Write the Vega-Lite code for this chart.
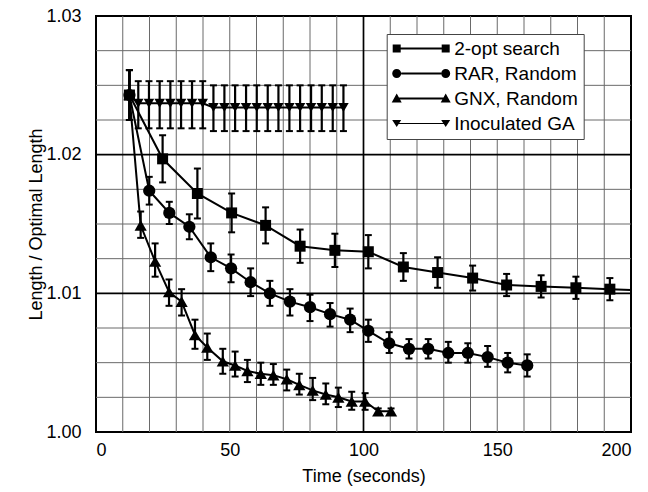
{
  "$schema": "https://vega.github.io/schema/vega-lite/v6.json",
  "width": 535,
  "height": 416,
  "autosize": {"type": "none"},
  "padding": {"left": 96, "top": 16, "right": 17, "bottom": 60},
  "background": "white",
  "config": {
    "font": "Liberation Sans",
    "view": {"stroke": "black", "strokeWidth": 2},
    "axis": {
      "domain": false,
      "ticks": false,
      "tickSize": 0,
      "grid": false,
      "labelColor": "black",
      "labelFontSize": 18,
      "labelFont": "Liberation Sans",
      "labelOverlap": false,
      "titleFont": "Liberation Sans",
      "titleFontSize": 18,
      "titleFontWeight": "normal",
      "titleColor": "black"
    }
  },
  "data": {
    "values": [
      {"s": "2-opt search", "t": 12.5, "v": 1.0243, "lo": 1.0225, "hi": 1.0261},
      {"s": "2-opt search", "t": 24.9, "v": 1.0197, "lo": 1.0180, "hi": 1.0214},
      {"s": "2-opt search", "t": 37.9, "v": 1.0172, "lo": 1.0154, "hi": 1.0190},
      {"s": "2-opt search", "t": 50.7, "v": 1.0158, "lo": 1.0144, "hi": 1.0172},
      {"s": "2-opt search", "t": 63.4, "v": 1.0149, "lo": 1.0136, "hi": 1.0162},
      {"s": "2-opt search", "t": 76.3, "v": 1.0134, "lo": 1.0122, "hi": 1.0146},
      {"s": "2-opt search", "t": 89.3, "v": 1.0131, "lo": 1.0119, "hi": 1.0143},
      {"s": "2-opt search", "t": 101.8, "v": 1.0130, "lo": 1.0118, "hi": 1.0142},
      {"s": "2-opt search", "t": 114.9, "v": 1.0119, "lo": 1.0109, "hi": 1.0129},
      {"s": "2-opt search", "t": 127.7, "v": 1.0115, "lo": 1.0104, "hi": 1.0126},
      {"s": "2-opt search", "t": 140.8, "v": 1.0111, "lo": 1.0102, "hi": 1.0120},
      {"s": "2-opt search", "t": 153.5, "v": 1.0106, "lo": 1.0098, "hi": 1.0114},
      {"s": "2-opt search", "t": 166.4, "v": 1.0105, "lo": 1.0097, "hi": 1.0113},
      {"s": "2-opt search", "t": 179.4, "v": 1.0104, "lo": 1.0096, "hi": 1.0112},
      {"s": "2-opt search", "t": 192.1, "v": 1.0103, "lo": 1.0095, "hi": 1.0111},
      {"s": "2-opt search", "t": 205.0, "v": 1.0102, "lo": 1.0094, "hi": 1.0110},
      {"s": "RAR, Random", "t": 12.5, "v": 1.0243, "lo": 1.0225, "hi": 1.0261},
      {"s": "RAR, Random", "t": 19.9, "v": 1.0174, "lo": 1.0164, "hi": 1.0184},
      {"s": "RAR, Random", "t": 27.4, "v": 1.0158, "lo": 1.0150, "hi": 1.0166},
      {"s": "RAR, Random", "t": 34.9, "v": 1.0148, "lo": 1.0139, "hi": 1.0157},
      {"s": "RAR, Random", "t": 42.9, "v": 1.0126, "lo": 1.0116, "hi": 1.0136},
      {"s": "RAR, Random", "t": 50.5, "v": 1.0118, "lo": 1.0108, "hi": 1.0128},
      {"s": "RAR, Random", "t": 57.8, "v": 1.0108, "lo": 1.0098, "hi": 1.0118},
      {"s": "RAR, Random", "t": 65.0, "v": 1.0100, "lo": 1.0091, "hi": 1.0109},
      {"s": "RAR, Random", "t": 72.5, "v": 1.0094, "lo": 1.0084, "hi": 1.0103},
      {"s": "RAR, Random", "t": 80.0, "v": 1.0090, "lo": 1.0080, "hi": 1.0099},
      {"s": "RAR, Random", "t": 87.5, "v": 1.0085, "lo": 1.0076, "hi": 1.0093},
      {"s": "RAR, Random", "t": 95.0, "v": 1.0081, "lo": 1.0072, "hi": 1.0089},
      {"s": "RAR, Random", "t": 101.8, "v": 1.0073, "lo": 1.0065, "hi": 1.0081},
      {"s": "RAR, Random", "t": 109.6, "v": 1.0064, "lo": 1.0057, "hi": 1.0072},
      {"s": "RAR, Random", "t": 117.0, "v": 1.0060, "lo": 1.0053, "hi": 1.0067},
      {"s": "RAR, Random", "t": 124.2, "v": 1.0060, "lo": 1.0053, "hi": 1.0067},
      {"s": "RAR, Random", "t": 131.7, "v": 1.0057, "lo": 1.0050, "hi": 1.0065},
      {"s": "RAR, Random", "t": 139.0, "v": 1.0057, "lo": 1.0050, "hi": 1.0064},
      {"s": "RAR, Random", "t": 146.4, "v": 1.0054, "lo": 1.0047, "hi": 1.0062},
      {"s": "RAR, Random", "t": 153.9, "v": 1.0050, "lo": 1.0043, "hi": 1.0057},
      {"s": "RAR, Random", "t": 161.2, "v": 1.0048, "lo": 1.0040, "hi": 1.0056},
      {"s": "GNX, Random", "t": 12.5, "v": 1.0243, "lo": 1.0225, "hi": 1.0261},
      {"s": "GNX, Random", "t": 16.7, "v": 1.0149, "lo": 1.0140, "hi": 1.0159},
      {"s": "GNX, Random", "t": 22.1, "v": 1.0123, "lo": 1.0112, "hi": 1.0136},
      {"s": "GNX, Random", "t": 27.3, "v": 1.0101, "lo": 1.0091, "hi": 1.0110},
      {"s": "GNX, Random", "t": 32.0, "v": 1.0094, "lo": 1.0084, "hi": 1.0103},
      {"s": "GNX, Random", "t": 37.0, "v": 1.0070, "lo": 1.0060, "hi": 1.0081},
      {"s": "GNX, Random", "t": 41.6, "v": 1.0061, "lo": 1.0052, "hi": 1.0071},
      {"s": "GNX, Random", "t": 47.4, "v": 1.0051, "lo": 1.0042, "hi": 1.0060},
      {"s": "GNX, Random", "t": 52.0, "v": 1.0048, "lo": 1.0040, "hi": 1.0058},
      {"s": "GNX, Random", "t": 56.6, "v": 1.0044, "lo": 1.0036, "hi": 1.0052},
      {"s": "GNX, Random", "t": 61.6, "v": 1.0042, "lo": 1.0034, "hi": 1.0050},
      {"s": "GNX, Random", "t": 66.3, "v": 1.0041, "lo": 1.0034, "hi": 1.0049},
      {"s": "GNX, Random", "t": 71.3, "v": 1.0038, "lo": 1.0030, "hi": 1.0045},
      {"s": "GNX, Random", "t": 76.0, "v": 1.0034, "lo": 1.0027, "hi": 1.0042},
      {"s": "GNX, Random", "t": 81.0, "v": 1.0030, "lo": 1.0023, "hi": 1.0039},
      {"s": "GNX, Random", "t": 85.9, "v": 1.0027, "lo": 1.0020, "hi": 1.0035},
      {"s": "GNX, Random", "t": 90.6, "v": 1.0025, "lo": 1.0018, "hi": 1.0032},
      {"s": "GNX, Random", "t": 95.6, "v": 1.0022, "lo": 1.0016, "hi": 1.0029},
      {"s": "GNX, Random", "t": 100.6, "v": 1.0022, "lo": 1.0016, "hi": 1.0028},
      {"s": "GNX, Random", "t": 105.5, "v": 1.0015, "lo": 1.0013, "hi": 1.0017},
      {"s": "GNX, Random", "t": 110.3, "v": 1.0015, "lo": 1.0013, "hi": 1.0017},
      {"s": "Inoculated GA", "t": 12.5, "v": 1.0243, "lo": 1.0225, "hi": 1.0261},
      {"s": "Inoculated GA", "t": 15.8, "v": 1.0237, "lo": 1.0219, "hi": 1.0253},
      {"s": "Inoculated GA", "t": 19.8, "v": 1.0237, "lo": 1.0219, "hi": 1.0253},
      {"s": "Inoculated GA", "t": 23.8, "v": 1.0237, "lo": 1.0219, "hi": 1.0253},
      {"s": "Inoculated GA", "t": 27.8, "v": 1.0237, "lo": 1.0219, "hi": 1.0253},
      {"s": "Inoculated GA", "t": 31.8, "v": 1.0237, "lo": 1.0219, "hi": 1.0253},
      {"s": "Inoculated GA", "t": 35.9, "v": 1.0237, "lo": 1.0219, "hi": 1.0253},
      {"s": "Inoculated GA", "t": 39.9, "v": 1.0237, "lo": 1.0219, "hi": 1.0253},
      {"s": "Inoculated GA", "t": 43.9, "v": 1.0234, "lo": 1.0217, "hi": 1.0250},
      {"s": "Inoculated GA", "t": 48.0, "v": 1.0234, "lo": 1.0217, "hi": 1.0250},
      {"s": "Inoculated GA", "t": 52.0, "v": 1.0234, "lo": 1.0217, "hi": 1.0250},
      {"s": "Inoculated GA", "t": 56.1, "v": 1.0234, "lo": 1.0217, "hi": 1.0250},
      {"s": "Inoculated GA", "t": 60.1, "v": 1.0234, "lo": 1.0217, "hi": 1.0250},
      {"s": "Inoculated GA", "t": 64.2, "v": 1.0234, "lo": 1.0217, "hi": 1.0250},
      {"s": "Inoculated GA", "t": 68.2, "v": 1.0234, "lo": 1.0217, "hi": 1.0250},
      {"s": "Inoculated GA", "t": 72.3, "v": 1.0234, "lo": 1.0217, "hi": 1.0250},
      {"s": "Inoculated GA", "t": 76.3, "v": 1.0234, "lo": 1.0217, "hi": 1.0250},
      {"s": "Inoculated GA", "t": 80.4, "v": 1.0234, "lo": 1.0217, "hi": 1.0250},
      {"s": "Inoculated GA", "t": 84.4, "v": 1.0234, "lo": 1.0217, "hi": 1.0250},
      {"s": "Inoculated GA", "t": 88.5, "v": 1.0234, "lo": 1.0217, "hi": 1.0250},
      {"s": "Inoculated GA", "t": 92.5, "v": 1.0234, "lo": 1.0217, "hi": 1.0250}
    ]
  },
  "layer": [
    {"data": {"values": [{}]}, "mark": {"type": "rule", "color": "#6a6a6a", "strokeWidth": 1}, "encoding": {"x": {"datum": 10, "type": "quantitative"}}},
    {"data": {"values": [{}]}, "mark": {"type": "rule", "color": "#6a6a6a", "strokeWidth": 1}, "encoding": {"x": {"datum": 20, "type": "quantitative"}}},
    {"data": {"values": [{}]}, "mark": {"type": "rule", "color": "#6a6a6a", "strokeWidth": 1}, "encoding": {"x": {"datum": 30, "type": "quantitative"}}},
    {"data": {"values": [{}]}, "mark": {"type": "rule", "color": "#6a6a6a", "strokeWidth": 1}, "encoding": {"x": {"datum": 40, "type": "quantitative"}}},
    {"data": {"values": [{}]}, "mark": {"type": "rule", "color": "#6a6a6a", "strokeWidth": 1}, "encoding": {"x": {"datum": 50, "type": "quantitative"}}},
    {"data": {"values": [{}]}, "mark": {"type": "rule", "color": "#6a6a6a", "strokeWidth": 1}, "encoding": {"x": {"datum": 60, "type": "quantitative"}}},
    {"data": {"values": [{}]}, "mark": {"type": "rule", "color": "#6a6a6a", "strokeWidth": 1}, "encoding": {"x": {"datum": 70, "type": "quantitative"}}},
    {"data": {"values": [{}]}, "mark": {"type": "rule", "color": "#6a6a6a", "strokeWidth": 1}, "encoding": {"x": {"datum": 80, "type": "quantitative"}}},
    {"data": {"values": [{}]}, "mark": {"type": "rule", "color": "#6a6a6a", "strokeWidth": 1}, "encoding": {"x": {"datum": 90, "type": "quantitative"}}},
    {"data": {"values": [{}]}, "mark": {"type": "rule", "color": "#6a6a6a", "strokeWidth": 1}, "encoding": {"x": {"datum": 110, "type": "quantitative"}}},
    {"data": {"values": [{}]}, "mark": {"type": "rule", "color": "#6a6a6a", "strokeWidth": 1}, "encoding": {"x": {"datum": 120, "type": "quantitative"}}},
    {"data": {"values": [{}]}, "mark": {"type": "rule", "color": "#6a6a6a", "strokeWidth": 1}, "encoding": {"x": {"datum": 130, "type": "quantitative"}}},
    {"data": {"values": [{}]}, "mark": {"type": "rule", "color": "#6a6a6a", "strokeWidth": 1}, "encoding": {"x": {"datum": 140, "type": "quantitative"}}},
    {"data": {"values": [{}]}, "mark": {"type": "rule", "color": "#6a6a6a", "strokeWidth": 1}, "encoding": {"x": {"datum": 150, "type": "quantitative"}}},
    {"data": {"values": [{}]}, "mark": {"type": "rule", "color": "#6a6a6a", "strokeWidth": 1}, "encoding": {"x": {"datum": 160, "type": "quantitative"}}},
    {"data": {"values": [{}]}, "mark": {"type": "rule", "color": "#6a6a6a", "strokeWidth": 1}, "encoding": {"x": {"datum": 170, "type": "quantitative"}}},
    {"data": {"values": [{}]}, "mark": {"type": "rule", "color": "#6a6a6a", "strokeWidth": 1}, "encoding": {"x": {"datum": 180, "type": "quantitative"}}},
    {"data": {"values": [{}]}, "mark": {"type": "rule", "color": "#6a6a6a", "strokeWidth": 1}, "encoding": {"x": {"datum": 190, "type": "quantitative"}}},
    {"data": {"values": [{}]}, "mark": {"type": "rule", "color": "#6a6a6a", "strokeWidth": 1}, "encoding": {"y": {"datum": 1.0025, "type": "quantitative"}}},
    {"data": {"values": [{}]}, "mark": {"type": "rule", "color": "#6a6a6a", "strokeWidth": 1}, "encoding": {"y": {"datum": 1.005, "type": "quantitative"}}},
    {"data": {"values": [{}]}, "mark": {"type": "rule", "color": "#6a6a6a", "strokeWidth": 1}, "encoding": {"y": {"datum": 1.0075, "type": "quantitative"}}},
    {"data": {"values": [{}]}, "mark": {"type": "rule", "color": "#6a6a6a", "strokeWidth": 1}, "encoding": {"y": {"datum": 1.0125, "type": "quantitative"}}},
    {"data": {"values": [{}]}, "mark": {"type": "rule", "color": "#6a6a6a", "strokeWidth": 1}, "encoding": {"y": {"datum": 1.015, "type": "quantitative"}}},
    {"data": {"values": [{}]}, "mark": {"type": "rule", "color": "#6a6a6a", "strokeWidth": 1}, "encoding": {"y": {"datum": 1.0175, "type": "quantitative"}}},
    {"data": {"values": [{}]}, "mark": {"type": "rule", "color": "#6a6a6a", "strokeWidth": 1}, "encoding": {"y": {"datum": 1.0225, "type": "quantitative"}}},
    {"data": {"values": [{}]}, "mark": {"type": "rule", "color": "#6a6a6a", "strokeWidth": 1}, "encoding": {"y": {"datum": 1.025, "type": "quantitative"}}},
    {"data": {"values": [{}]}, "mark": {"type": "rule", "color": "#6a6a6a", "strokeWidth": 1}, "encoding": {"y": {"datum": 1.0275, "type": "quantitative"}}},
    {"data": {"values": [{}]}, "mark": {"type": "rule", "color": "black", "strokeWidth": 1.7}, "encoding": {"x": {"datum": 100, "type": "quantitative"}}},
    {"data": {"values": [{}]}, "mark": {"type": "rule", "color": "black", "strokeWidth": 1.7}, "encoding": {"y": {"datum": 1.01, "type": "quantitative"}}},
    {"data": {"values": [{}]}, "mark": {"type": "rule", "color": "black", "strokeWidth": 1.7}, "encoding": {"y": {"datum": 1.02, "type": "quantitative"}}},
    {
      "mark": {"type": "line", "color": "black", "strokeWidth": 2, "clip": true},
      "encoding": {
        "x": {
          "field": "t", "type": "quantitative",
          "scale": {"domain": [0, 200], "nice": false, "zero": false},
          "axis": {
            "values": [0, 50, 100, 150, 200],
            "tickCount": 100,
            "labelOverlap": false,
            "labelPadding": 9,
            "grid": false,
            "title": "Time (seconds)",
            "titlePadding": 8
          }
        },
        "y": {
          "field": "v", "type": "quantitative",
          "scale": {"domain": [1.0, 1.03], "nice": false, "zero": false},
          "axis": {
            "values": [1.0, 1.01, 1.02, 1.03],
            "tickCount": 100,
            "format": ".2f",
            "labelOverlap": false,
            "labelPadding": 15,
            "grid": false,
            "title": "Length / Optimal Length",
            "titlePadding": 0
          }
        },
        "detail": {"field": "s", "type": "nominal"}
      }
    },
    {
      "mark": {"type": "rule", "color": "black", "strokeWidth": 2.2, "clip": true},
      "encoding": {
        "x": {"field": "t", "type": "quantitative"},
        "y": {"field": "lo", "type": "quantitative"},
        "y2": {"field": "hi"}
      }
    },
    {
      "mark": {"type": "tick", "orient": "horizontal", "color": "black", "size": 7, "thickness": 2, "opacity": 1, "clip": true},
      "encoding": {
        "x": {"field": "t", "type": "quantitative"},
        "y": {"field": "lo", "type": "quantitative"}
      }
    },
    {
      "mark": {"type": "tick", "orient": "horizontal", "color": "black", "size": 7, "thickness": 2, "opacity": 1, "clip": true},
      "encoding": {
        "x": {"field": "t", "type": "quantitative"},
        "y": {"field": "hi", "type": "quantitative"}
      }
    },
    {
      "transform": [{"filter": "datum.s === '2-opt search'"}],
      "mark": {"type": "point", "shape": "square", "size": 121, "filled": true, "color": "black", "opacity": 1, "clip": true},
      "encoding": {
        "x": {"field": "t", "type": "quantitative"},
        "y": {"field": "v", "type": "quantitative"}
      }
    },
    {
      "transform": [{"filter": "datum.s === 'RAR, Random'"}],
      "mark": {"type": "point", "shape": "circle", "size": 150, "filled": true, "color": "black", "opacity": 1, "clip": true},
      "encoding": {
        "x": {"field": "t", "type": "quantitative"},
        "y": {"field": "v", "type": "quantitative"}
      }
    },
    {
      "transform": [{"filter": "datum.s === 'GNX, Random'"}],
      "mark": {"type": "point", "shape": "triangle-up", "size": 150, "filled": true, "color": "black", "opacity": 1, "clip": true},
      "encoding": {
        "x": {"field": "t", "type": "quantitative"},
        "y": {"field": "v", "type": "quantitative"}
      }
    },
    {
      "transform": [{"filter": "datum.s === 'Inoculated GA'"}],
      "mark": {"type": "point", "shape": "triangle-down", "size": 110, "filled": true, "color": "black", "opacity": 1, "clip": true},
      "encoding": {
        "x": {"field": "t", "type": "quantitative"},
        "y": {"field": "v", "type": "quantitative"}
      }
    },
    {
      "transform": [{"filter": "false"}],
      "mark": {"type": "point", "filled": true, "color": "black", "opacity": 1, "size": 4},
      "encoding": {
        "x": {"field": "t", "type": "quantitative"},
        "y": {"field": "v", "type": "quantitative"},
        "shape": {
          "field": "s", "type": "nominal",
          "scale": {
            "domain": ["2-opt search", "RAR, Random", "GNX, Random", "Inoculated GA"],
            "range": [
              "M-4,-4H4V4H-4ZM4,-1H45V1H4ZM45,-4H53V4H45Z",
              "M-4.5,0A4.5,4.5,0,1,1,4.5,0A4.5,4.5,0,1,1,-4.5,0ZM4.5,-1H44.5V1H4.5ZM44.5,0A4.5,4.5,0,1,1,53.5,0A4.5,4.5,0,1,1,44.5,0Z",
              "M0,-5L5,4H-5ZM2,-1H47V1H2ZM49,-5L54,4H44Z",
              "M-4.5,-3.5H4.5L0,3.5ZM2,-0.6H47V0.6H2ZM44.5,-3.5H53.5L49,3.5Z"
            ]
          },
          "legend": {
            "orient": "none",
            "legendX": 290.7,
            "legendY": 18,
            "title": null,
            "labelFontSize": 19,
            "labelFont": "Liberation Sans",
            "labelColor": "black",
            "labelLimit": 300,
            "symbolSize": 4,
            "symbolFillColor": "black",
            "symbolStrokeColor": "black",
            "symbolStrokeWidth": 0,
            "symbolOpacity": 1,
            "symbolOffset": -4.5,
            "labelOffset": 48,
            "padding": 5,
            "rowPadding": 5,
            "fillColor": "white",
            "strokeColor": "#444"
          }
        }
      }
    }
  ]
}
